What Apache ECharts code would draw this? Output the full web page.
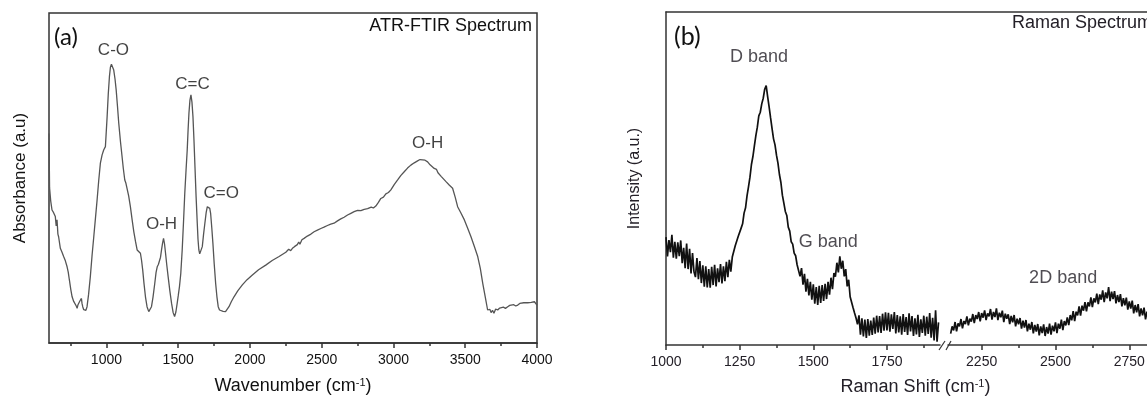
<!DOCTYPE html>
<html>
<head>
<meta charset="utf-8">
<script src="https://cdn.jsdelivr.net/npm/echarts@6.0.0/dist/echarts.min.js"></script>
<style>
  html, body { margin: 0; padding: 0; background: #fff; }
  #chart { width: 1147px; height: 396px; }
</style>
</head>
<body>
<div id="chart"></div>
<script>
// ---- (a) ATR-FTIR ----
const ftirWavenumber = [
  600, 604, 612, 621, 632, 644, 650, 656, 662, 667, 679, 690, 702, 714, 726, 734, 742, 752, 761, 772,
  784, 790, 796, 802, 807, 816, 826, 830, 835, 842, 849, 857, 865, 876, 888, 900, 912, 924, 935, 946,
  958, 970, 981, 993, 1005, 1013, 1021, 1028, 1035, 1043, 1051, 1060, 1068, 1077, 1086, 1098, 1109, 1118, 1128, 1136,
  1144, 1155, 1167, 1179, 1191, 1203, 1214, 1225, 1237, 1245, 1253, 1262, 1272, 1283, 1295, 1305, 1314, 1325, 1337, 1346,
  1354, 1362, 1370, 1377, 1384, 1391, 1398, 1405, 1412, 1421, 1430, 1442, 1454, 1465, 1475, 1484, 1493, 1501, 1509, 1518,
  1528, 1537, 1546, 1555, 1563, 1569, 1575, 1582, 1589, 1596, 1603, 1610, 1617, 1625, 1633, 1638, 1644, 1650, 1656, 1662,
  1668, 1677, 1686, 1695, 1703, 1709, 1714, 1720, 1726, 1734, 1742, 1751, 1761, 1770, 1779, 1788, 1796, 1813, 1830, 1842,
  1854, 1870, 1889, 1915, 1947, 1980, 2017, 2060, 2110, 2155, 2203, 2250, 2270, 2284, 2296, 2310, 2330, 2340, 2348, 2354,
  2362, 2377, 2400, 2425, 2447, 2470, 2494, 2516, 2540, 2563, 2586, 2610, 2633, 2656, 2680, 2703, 2726, 2750, 2773, 2796,
  2820, 2845, 2860, 2877, 2895, 2912, 2930, 2947, 2965, 2982, 3005, 3029, 3052, 3075, 3098, 3121, 3145, 3168, 3185, 3203,
  3220, 3238, 3255, 3268, 3284, 3300, 3310, 3319, 3332, 3345, 3366, 3390, 3412, 3430, 3447, 3470, 3494, 3517, 3540, 3563,
  3587, 3605, 3622, 3640, 3656, 3665, 3672, 3680, 3690, 3700, 3712, 3726, 3740, 3752, 3765, 3780, 3796, 3810, 3822, 3838,
  3852, 3866, 3880, 3893, 3908, 3921, 3935, 3948, 3960, 3972, 3982, 3992, 4000
];
const ftirAbsorbance = [
  63.5, 47.0, 43.0, 40.3, 39.5, 38.3, 35.5, 37.3, 33.0, 32.2, 28.7, 27.6, 26.2, 24.9, 23.1, 21.5, 19.1, 16.2, 14.0, 12.6,
  12.0, 11.2, 10.5, 11.6, 12.0, 12.8, 13.5, 12.0, 11.0, 10.1, 9.5, 9.9, 11.0, 14.8, 20.1, 26.5, 32.2, 38.0, 43.3, 49.0,
  54.5, 57.0, 58.5, 59.5, 68.6, 75.5, 80.7, 83.6, 84.5, 84.0, 82.7, 80.0, 76.7, 71.8, 66.6, 61.0, 56.5, 52.8, 49.4, 48.4,
  47.9, 44.6, 41.3, 37.4, 33.7, 30.7, 28.2, 27.6, 27.2, 25.0, 22.1, 18.0, 14.0, 11.0, 9.5, 9.8, 11.0, 14.0, 18.1, 21.4,
  23.1, 23.8, 24.1, 26.0, 28.2, 30.2, 31.7, 30.0, 27.2, 23.5, 20.1, 15.8, 12.0, 9.2, 8.0, 9.4, 12.0, 14.5, 17.1, 21.0,
  28.2, 36.5, 45.4, 52.5, 58.5, 64.5, 69.6, 73.6, 75.2, 73.0, 68.6, 61.5, 53.4, 44.2, 36.3, 31.5, 28.2, 27.0, 26.7, 27.6,
  29.2, 33.0, 36.3, 39.5, 41.3, 41.8, 41.8, 40.8, 39.3, 35.0, 30.2, 24.0, 18.1, 14.0, 11.0, 10.0, 9.5, 9.6, 9.5, 10.1,
  11.0, 12.5, 14.0, 15.8, 17.6, 19.2, 20.6, 22.2, 23.6, 25.0, 26.2, 27.5, 28.4, 28.0, 28.7, 29.2, 29.8, 30.6, 29.9, 30.2,
  31.3, 31.7, 32.4, 33.0, 33.7, 34.2, 34.7, 35.1, 35.6, 36.0, 36.3, 37.0, 37.6, 38.1, 38.8, 39.3, 39.8, 40.2, 40.1, 40.5,
  40.7, 41.2, 40.9, 41.5, 42.6, 43.8, 44.2, 45.2, 45.6, 46.4, 48.0, 49.4, 50.8, 51.9, 53.0, 53.9, 54.6, 55.2, 55.6, 55.5,
  55.4, 54.9, 54.0, 54.2, 52.9, 52.6, 51.6, 51.9, 50.5, 50.2, 48.9, 47.8, 46.9, 44.2, 41.3, 39.4, 37.3, 34.8, 32.2, 29.3,
  26.2, 22.6, 18.1, 13.8, 10.0, 9.4, 10.2, 9.2, 9.9, 9.0, 10.3, 10.0, 10.6, 10.1, 10.9, 10.5, 11.0, 11.4, 10.9, 11.6,
  11.2, 11.5, 12.0, 11.6, 12.2, 11.9, 12.2, 12.6, 12.3, 12.7, 12.5, 12.9, 11.5
];
const ftirMajorTicks = [1000, 1500, 2000, 2500, 3000, 3500, 4000];
const ftirMinorTicks = [750, 1250, 1750, 2250, 2750, 3250, 3750];
const ftirPeakNames = ['C-O', 'O-H', 'C=C', 'C=O', 'O-H'];
const ftirPeakLabelAt = [[1049, 88.8], [1384, 36.1], [1600, 78.5], [1800, 45.4], [3238, 60.5]];

// ---- (b) Raman, two segments either side of the axis break ----
const ramanShiftStep = 5;
const ramanShiftStart1 = 1000;
const ramanIntensity1 = [
  32.4, 26.6, 31.5, 27.9, 33.1, 26.2, 31.0, 25.9, 30.8, 26.7,
  31.4, 24.6, 29.2, 23.1, 30.5, 22.8, 28.9, 21.5, 27.6, 22.0,
  20.4, 26.1, 19.8, 25.2, 18.6, 23.9, 17.5, 23.6, 17.3, 22.8,
  17.2, 23.5, 18.0, 24.1, 17.6, 23.0, 18.9, 24.3, 18.5, 23.6,
  19.2, 25.0, 20.4, 25.6, 22.0, 26.4, 26.3, 29.8, 29.6, 32.6,
  33.0, 35.1, 36.4, 39.6, 41.2, 44.8, 47.5, 50.4, 54.2, 56.6,
  59.8, 62.9, 65.4, 68.8, 69.9, 72.4, 74.1, 76.8, 77.9, 74.6,
  71.5, 68.2, 65.0, 61.9, 60.1, 57.0, 54.6, 51.2, 48.8, 45.0,
  42.6, 40.1, 38.9, 35.4, 34.2, 31.0, 30.3, 27.6, 26.8, 24.1,
  24.6, 20.6, 23.1, 18.1, 21.4, 16.0, 19.9, 14.9, 19.0, 13.6,
  18.2, 12.4, 17.4, 12.0, 17.8, 12.6, 18.0, 13.2, 18.4, 13.8,
  19.0, 15.1, 20.2, 16.8, 21.6, 20.5, 24.7, 21.8, 26.6, 22.9,
  25.3, 20.6, 22.8, 17.6, 19.6, 14.5, 14.2, 11.2, 9.6, 8.1,
  6.2, 8.9, 3.1, 8.0, 2.6, 7.6, 2.1, 7.8, 2.8, 7.3,
  3.0, 8.2, 3.4, 8.8, 3.8, 8.7, 3.6, 9.4, 4.3, 9.8,
  4.4, 9.7, 4.0, 9.2, 4.8, 9.9, 3.5, 9.0, 3.8, 8.6,
  3.1, 9.3, 3.9, 8.4, 3.0, 9.5, 4.1, 8.7, 2.7, 8.0,
  3.2, 9.1, 2.4, 7.7, 3.6, 8.8, 2.8, 8.5, 3.3, 9.6,
  2.2, 8.2, 1.4, 10.4, 1.0, 6.8
];
const ramanShiftStart2 = 2145;
const ramanIntensity2 = [
  3.4, 5.6, 4.4, 6.9, 4.1, 6.5, 5.6, 7.8, 5.0, 7.2,
  6.3, 8.6, 5.9, 7.9, 7.0, 9.3, 6.6, 9.0, 7.8, 9.9,
  7.1, 9.6, 8.2, 10.4, 7.5, 9.5, 8.6, 10.8, 7.6, 9.9,
  8.4, 11.0, 7.5, 9.7, 8.3, 10.3, 6.9, 9.4, 7.9, 9.2,
  6.3, 8.7, 6.8, 9.0, 5.6, 7.9, 6.2, 8.1, 4.9, 7.3,
  5.2, 7.5, 4.1, 6.4, 4.6, 6.9, 3.5, 6.0, 4.0, 6.3,
  2.9, 5.6, 3.6, 6.2, 2.7, 5.4, 3.4, 6.4, 3.1, 5.8,
  4.1, 6.8, 3.6, 6.4, 4.9, 7.6, 4.5, 7.2, 5.9, 8.3,
  6.0, 9.0, 7.4, 10.2, 7.2, 10.0, 8.9, 11.6, 8.8, 11.8,
  10.3, 12.9, 10.1, 12.8, 11.6, 14.3, 11.4, 14.0, 12.8, 15.4,
  12.3, 15.2, 13.6, 16.4, 12.9, 15.8, 14.0, 17.4, 13.2, 16.0,
  13.8, 16.2, 12.5, 15.0, 12.9, 15.3, 11.6, 14.1, 11.9, 14.2,
  10.6, 13.1, 10.9, 13.3, 9.5, 12.0, 9.8, 12.3, 8.6, 11.0,
  8.9, 11.2, 7.7, 10.0, 8.0, 10.5, 7.0, 9.3, 7.3, 9.6,
  6.5, 8.8
];
const ramanMajorTicks1 = [1000, 1250, 1500, 1750];
const ramanMinorTicks1 = [1125, 1375, 1625, 1875];
const ramanMajorTicks2 = [2250, 2500, 2750];
const ramanMinorTicks2 = [2375, 2625];
const ramanBandNames = ['D band', 'G band'];
const ramanBandLabelAt = [[1316, 86.6], [1551, 31.0]];
const raman2DName = '2D band';
const raman2DLabelAt = [2526, 20.0];

const FONT = 'Liberation Sans, Arial, sans-serif';
const FRAME = { color: '#333', width: 1.5 };
const INK_A = '#111';
const INK_B = '#242028';

const chart = echarts.init(document.getElementById('chart'), null, { renderer: 'canvas' });

const pairs = (xs, ys) => xs.map((x, i) => [x, ys[i]]);
const stepped = (start, ys) => ys.map((y, i) => [start + i * ramanShiftStep, y]);

function tickAxis(grid, min, max, major, minor, color) {
  return [
    {
      type: 'value', gridIndex: grid, position: 'bottom', min: min, max: max,
      axisLine: { show: true, onZero: false, lineStyle: FRAME },
      axisTick: { show: true, inside: false, length: 5, customValues: major, lineStyle: FRAME },
      axisLabel: { show: true, customValues: major, margin: 10, formatter: v => String(v), fontFamily: FONT, fontSize: 14, color: color },
      splitLine: { show: false }
    },
    {
      type: 'value', gridIndex: grid, position: 'bottom', min: min, max: max,
      axisLine: { show: false, onZero: false },
      axisTick: { show: true, inside: false, length: 3, customValues: minor, lineStyle: FRAME },
      axisLabel: { show: false },
      splitLine: { show: false }
    }
  ];
}

function labelSeries(x, y, names, at, size, color) {
  return {
    type: 'scatter', xAxisIndex: x, yAxisIndex: y, silent: true,
    symbolSize: 1, itemStyle: { color: 'transparent' },
    label: { show: true, position: 'inside', formatter: p => p.name, fontFamily: FONT, fontSize: size, color: color },
    labelLayout: { hideOverlap: false },
    data: names.map((n, i) => ({ name: n, value: at[i] })),
    z: 5
  };
}

const hidden = { axisLine: { show: false, onZero: false }, axisTick: { show: false }, axisLabel: { show: false }, splitLine: { show: false } };
const frameLine = { show: true, onZero: false, lineStyle: FRAME };

chart.setOption({
  animation: false,
  title: [
    { text: '(a)', left: 54, top: 25, padding: 0, textStyle: { fontFamily: 'Lato, sans-serif', fontWeight: 'normal', fontSize: 24, color: '#111' } },
    { text: 'ATR-FTIR Spectrum', right: 615, top: 17, padding: 0, textStyle: { fontFamily: FONT, fontWeight: 'normal', fontSize: 18, color: INK_A } },
    { text: '(b)', left: 674, top: 24, padding: 0, textStyle: { fontFamily: 'Lato, sans-serif', fontWeight: 'normal', fontSize: 25, color: '#111' } },
    { text: 'Raman Spectrum', left: 1012, top: 14, padding: 0, textStyle: { fontFamily: FONT, fontWeight: 'normal', fontSize: 18, color: INK_B } }
  ],
  grid: [
    { left: 49, top: 13, width: 488, height: 330, show: true, borderColor: '#333', borderWidth: 1.5, outerBoundsMode: 'none' },
    { left: 666, top: 12, width: 499, height: 333, outerBoundsMode: 'none' },
    { left: 666, top: 12, width: 274, height: 333, outerBoundsMode: 'none' },
    { left: 948, top: 12, width: 217, height: 333, outerBoundsMode: 'none' }
  ],
  xAxis: [
    Object.assign(tickAxis(0, 600, 4000, ftirMajorTicks, ftirMinorTicks, INK_A)[0], {
      name: 'Wavenumber (cm{sup|-1})', nameLocation: 'middle', nameGap: 34,
      nameTextStyle: { fontFamily: FONT, fontSize: 18, color: INK_A, rich: { sup: { fontFamily: FONT, fontSize: 11, verticalAlign: 'top', color: INK_A } } }
    }),
    tickAxis(0, 600, 4000, ftirMajorTicks, ftirMinorTicks, INK_A)[1],
    // panel (b) frame top + axis name
    { type: 'value', gridIndex: 1, position: 'top', min: 0, max: 1, axisLine: frameLine, axisTick: { show: false }, axisLabel: { show: false }, splitLine: { show: false } },
    Object.assign({ type: 'value', gridIndex: 1, position: 'bottom', min: 0, max: 1 }, hidden, {
      name: 'Raman Shift (cm{sup|-1})', nameLocation: 'middle', nameGap: 33,
      nameTextStyle: { fontFamily: FONT, fontSize: 18, color: INK_B, rich: { sup: { fontFamily: FONT, fontSize: 11, verticalAlign: 'top', color: INK_B } } }
    }),
    ...tickAxis(2, 1000, 1930, ramanMajorTicks1, ramanMinorTicks1, INK_B),
    ...tickAxis(3, 2136, 2871, ramanMajorTicks2, ramanMinorTicks2, INK_B)
  ],
  yAxis: [
    Object.assign({ type: 'value', gridIndex: 0, min: 0, max: 100 }, hidden, {
      name: 'Absorbance (a.u)', nameLocation: 'middle', nameGap: 20,
      nameTextStyle: { fontFamily: FONT, fontSize: 17, color: INK_A }
    }),
    Object.assign({ type: 'value', gridIndex: 1, position: 'left', min: 0, max: 100 }, hidden, {
      axisLine: frameLine,
      name: 'Intensity (a.u.)', nameLocation: 'middle', nameGap: 23,
      nameTextStyle: { fontFamily: FONT, fontSize: 16, color: INK_B }
    }),
    Object.assign({ type: 'value', gridIndex: 1, position: 'right', min: 0, max: 100 }, hidden, {
      axisLine: frameLine
    }),
    Object.assign({ type: 'value', gridIndex: 2, min: 0, max: 100 }, hidden),
    Object.assign({ type: 'value', gridIndex: 3, min: 0, max: 100 }, hidden)
  ],
  series: [
    {
      name: 'ATR-FTIR', type: 'line', xAxisIndex: 0, yAxisIndex: 0,
      data: pairs(ftirWavenumber, ftirAbsorbance),
      showSymbol: false, smooth: false,
      lineStyle: { color: '#555', width: 1.3 }
    },
    {
      name: 'Raman 1', type: 'line', xAxisIndex: 4, yAxisIndex: 3,
      data: stepped(ramanShiftStart1, ramanIntensity1),
      showSymbol: false, lineStyle: { color: '#111', width: 1.7 }
    },
    {
      name: 'Raman 2', type: 'line', xAxisIndex: 6, yAxisIndex: 4,
      data: stepped(ramanShiftStart2, ramanIntensity2),
      showSymbol: false, lineStyle: { color: '#111', width: 1.7 }
    },
    labelSeries(0, 0, ftirPeakNames, ftirPeakLabelAt, 17, INK_A),
    labelSeries(4, 3, ramanBandNames, ramanBandLabelAt, 18, INK_B),
    labelSeries(6, 4, [raman2DName], [raman2DLabelAt], 18, INK_B)
  ]
});

// break marks "//" where segment one ends
const brk = chart.convertToPixel({ xAxisIndex: 4, yAxisIndex: 3 }, [1930, 0]);
chart.setOption({
  graphic: [
    { type: 'line', shape: { x1: brk[0] - 1, y1: brk[1] + 5, x2: brk[0] + 5, y2: brk[1] - 4 }, style: { stroke: '#333', lineWidth: 1.2 } },
    { type: 'line', shape: { x1: brk[0] + 6, y1: brk[1] + 5, x2: brk[0] + 11, y2: brk[1] - 4 }, style: { stroke: '#333', lineWidth: 1.2 } }
  ]
});
</script>
</body>
</html>
